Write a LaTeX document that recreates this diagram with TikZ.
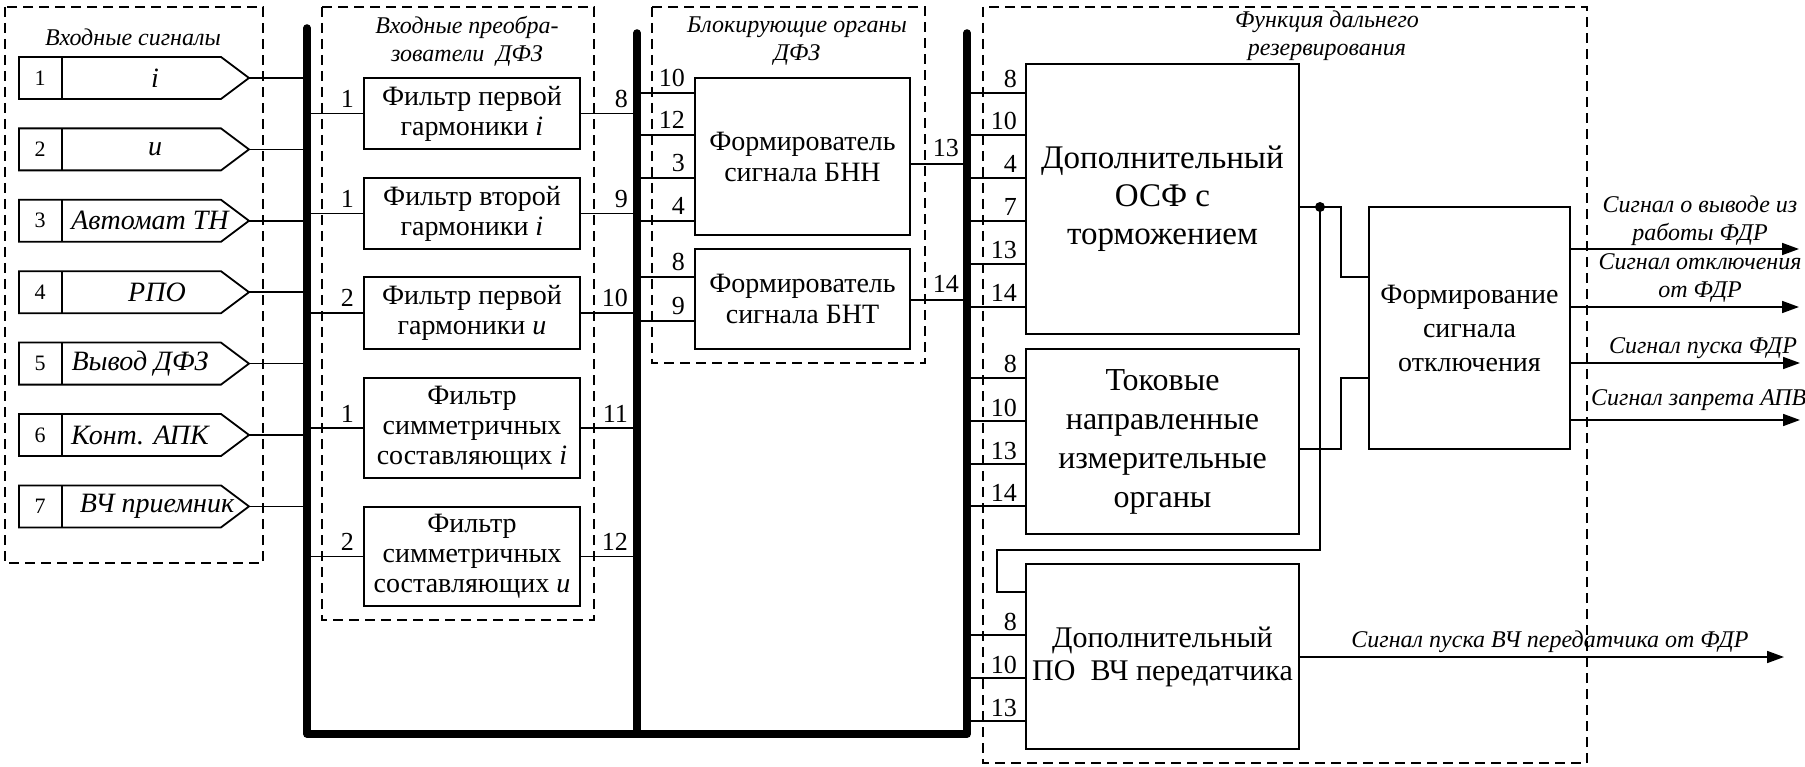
\documentclass[tikz,border=0pt]{standalone}
\usepackage{fontspec}
\setmainfont{Liberation Serif}
\usetikzlibrary{arrows.meta,calc}
\begin{document}
\begin{tikzpicture}[x=1pt,y=-1pt,
  blk/.style={draw,line width=1.8pt,inner sep=0pt,align=center},
  fbox/.style={blk,minimum width=216pt,font=\fontsize{28}{30}\selectfont},
  conn/.style={line width=1.7pt},
  arr/.style={line width=1.7pt,-{Triangle[length=17pt,width=12pt]}},
  bus/.style={line width=7.5pt,line cap=round,line join=round},
  dbox/.style={draw,line width=1.4pt,dash pattern=on 10pt off 6pt},
  ttl/.style={font=\fontsize{24}{28}\selectfont\itshape,align=center,inner sep=0pt},
  sig/.style={font=\fontsize{24}{28}\selectfont\itshape,align=center,inner sep=0pt},
  num/.style={font=\fontsize{26}{26}\selectfont,inner sep=0pt},
  innum/.style={font=\fontsize{22}{22}\selectfont,inner sep=0pt},
  intxt/.style={font=\fontsize{28}{28}\selectfont\itshape,inner sep=0pt}
]
\useasboundingbox (0,0) rectangle (1805,767);

% dashed groups
\draw[dbox] (5,7) rectangle (263,563);
\draw[dbox] (322,7) rectangle (594,620);
\draw[dbox] (652,7) rectangle (925,363);
\draw[dbox] (983,7) rectangle (1587,763);

\node[ttl] (t1) at (133,37) {Входные сигналы};
\node[ttl] (t2) at (467,41) {Входные преобра-\\зователи~\ ДФЗ};
\node[ttl] (t3) at (797,41) {Блокирующие органы\\ДФЗ};
\node[ttl] (t4) at (1327,36) {Функция дальнего\\резервирования};

% bus coordinates
\coordinate (bus1) at (307,28);
\coordinate (bus2) at (637,33);
\coordinate (bus3) at (967,33);
\coordinate (busB) at (307,734);

% input signals
\foreach \k/\txt/\tx in {1/i/155, 2/u/155, 3/{Автомат ТН}/150, 4/РПО/157, 5/{Вывод ДФЗ}/140, 6/{Конт. АПК}/140, 7/{ВЧ приемник}/157}{
  \pgfmathsetmacro\yy{78+71.4*(\k-1)}
  \draw[line width=1.8pt] (19,\yy-21) -- (221,\yy-21) -- (249,\yy) -- (221,\yy+21) -- (19,\yy+21) -- cycle;
  \draw[line width=1.8pt] (62,\yy-21) -- (62,\yy+21);
  \node[innum] (inN\k) at (40,\yy) {\k};
  \node[intxt] (inT\k) at (\tx,\yy) {\txt};
  \coordinate (inP\k) at (249,\yy);
  \draw[conn] (inP\k) -- (inP\k -| bus1);
}

% filters
\node[fbox,minimum height=71pt] (F1) at (472,113.5) {Фильтр первой\\гармоники \textit{i}};
\node[fbox,minimum height=71pt] (F2) at (472,213.5) {Фильтр второй\\гармоники \textit{i}};
\node[fbox,minimum height=72pt] (F3) at (472,313) {Фильтр первой\\гармоники \textit{u}};
\node[fbox,minimum height=100pt] (F4) at (472,428) {Фильтр\\симметричных\\составляющих \textit{i}};
\node[fbox,minimum height=99pt] (F5) at (472,556.5) {Фильтр\\симметричных\\составляющих \textit{u}};

\foreach \f/\a/\b in {F1/1/8, F2/1/9, F3/2/10, F4/1/11, F5/2/12}{
  \draw[conn] (\f.west -| bus1) -- (\f.west);
  \node[num,anchor=base east] at ($(\f.west)+(-9,-6)$) {\a};
  \draw[conn] (\f.east) -- (\f.east -| bus2);
  \node[num,anchor=base east] at ($(\f.east -| bus2)+(-9,-6)$) {\b};
}

% blocking
\node[blk,minimum width=215pt,minimum height=157pt,font=\fontsize{28}{31}\selectfont] (BNN) at (802.5,156.5) {Формирователь\\сигнала БНН};
\node[blk,minimum width=215pt,minimum height=100pt,font=\fontsize{28}{31}\selectfont] (BNT) at (802.5,299) {Формирователь\\сигнала БНТ};

\foreach \yy/\lab in {93/10,135/12,178/3,221/4}{
  \draw[conn] (bus2 |- 0,\yy) -- (BNN.west |- 0,\yy);
  \node[num,anchor=base east] at ($(BNN.west |- 0,\yy)+(-9,-6)$) {\lab};
}
\foreach \yy/\lab in {277/8,321/9}{
  \draw[conn] (bus2 |- 0,\yy) -- (BNT.west |- 0,\yy);
  \node[num,anchor=base east] at ($(BNT.west |- 0,\yy)+(-9,-6)$) {\lab};
}
\draw[conn] (BNN.east |- 0,164) -- (bus3 |- 0,164);
\node[num,anchor=base east] at ($(bus3 |- 0,164)+(-8,-7)$) {13};
\draw[conn] (BNT.east |- 0,300) -- (bus3 |- 0,300);
\node[num,anchor=base east] at ($(bus3 |- 0,300)+(-8,-7)$) {14};

% right blocks
\node[blk,minimum width=273pt,minimum height=270pt,font=\fontsize{33}{38}\selectfont] (OSF) at (1162.5,199) {Дополнительный\\ОСФ с\\торможением};
\node[blk,minimum width=273pt,minimum height=185pt,font=\fontsize{32}{39}\selectfont] (TOK) at (1162.5,441.5) {Токовые\\направленные\\измерительные\\органы};
\node[blk,minimum width=273pt,minimum height=185pt,font=\fontsize{30}{33}\selectfont] (PO) at (1162.5,656.5) {Дополнительный\\ПО~\ ВЧ передатчика};
\node[blk,minimum width=201pt,minimum height=242pt,font=\fontsize{28}{34}\selectfont] (FS) at (1469.5,328) {Формирование\\сигнала\\отключения};

\foreach \yy/\lab in {93/8,135/10,178/4,221/7,264/13,307/14}{
  \draw[conn] (bus3 |- 0,\yy) -- (OSF.west |- 0,\yy);
  \node[num,anchor=base east] at ($(OSF.west |- 0,\yy)+(-8,-5)$) {\lab};
}
\foreach \yy/\lab in {378/8,421/10,464/13,506/14}{
  \draw[conn] (bus3 |- 0,\yy) -- (TOK.west |- 0,\yy);
  \node[num,anchor=base east] at ($(TOK.west |- 0,\yy)+(-8,-5)$) {\lab};
}
\foreach \yy/\lab in {635/8,678/10,721/13}{
  \draw[conn] (bus3 |- 0,\yy) -- (PO.west |- 0,\yy);
  \node[num,anchor=base east] at ($(PO.west |- 0,\yy)+(-8,-5)$) {\lab};
}

% wiring right
\coordinate (jn) at (1320,207);
\draw[conn] (OSF.east |- 0,207) -- (1341,207) -- (1341,277) -- (FS.west |- 0,277);
\fill (jn) circle[radius=5pt];
\draw[conn] (jn) -- (1320,550) -- (997,550) -- (997,592) -- (PO.west |- 0,592);
\draw[conn] (TOK.east |- 0,449) -- (1341,449) -- (1341,378) -- (FS.west |- 0,378);

% outputs
\coordinate (o1) at (1799,249);
\coordinate (o2) at (1799,307);
\coordinate (o3) at (1800,363);
\coordinate (o4) at (1800,420);
\coordinate (o5) at (1784,657);
\draw[arr] (FS.east |- o1) -- (o1);
\draw[arr] (FS.east |- o2) -- (o2);
\draw[arr] (FS.east |- o3) -- (o3);
\draw[arr] (FS.east |- o4) -- (o4);
\draw[arr] (PO.east |- o5) -- (o5);
\node[sig] (s1) at (1700,221) {Сигнал о выводе из\\работы ФДР};
\node[sig] (s2) at (1700,277.5) {Сигнал отключения\\от ФДР};
\node[sig] (s3) at (1703,348) {Сигнал пуска ФДР};
\node[sig,anchor=west] (s4) at (1591,400) {Сигнал запрета АПВ};
\node[sig] (s5) at (1550,642) {Сигнал пуска ВЧ передатчика от ФДР};

% buses
\draw[bus] (bus1) -- (busB) -- (busB -| bus3) -- (bus3);
\draw[bus] (bus2) -- (bus2 |- busB);
\end{tikzpicture}
\end{document}
